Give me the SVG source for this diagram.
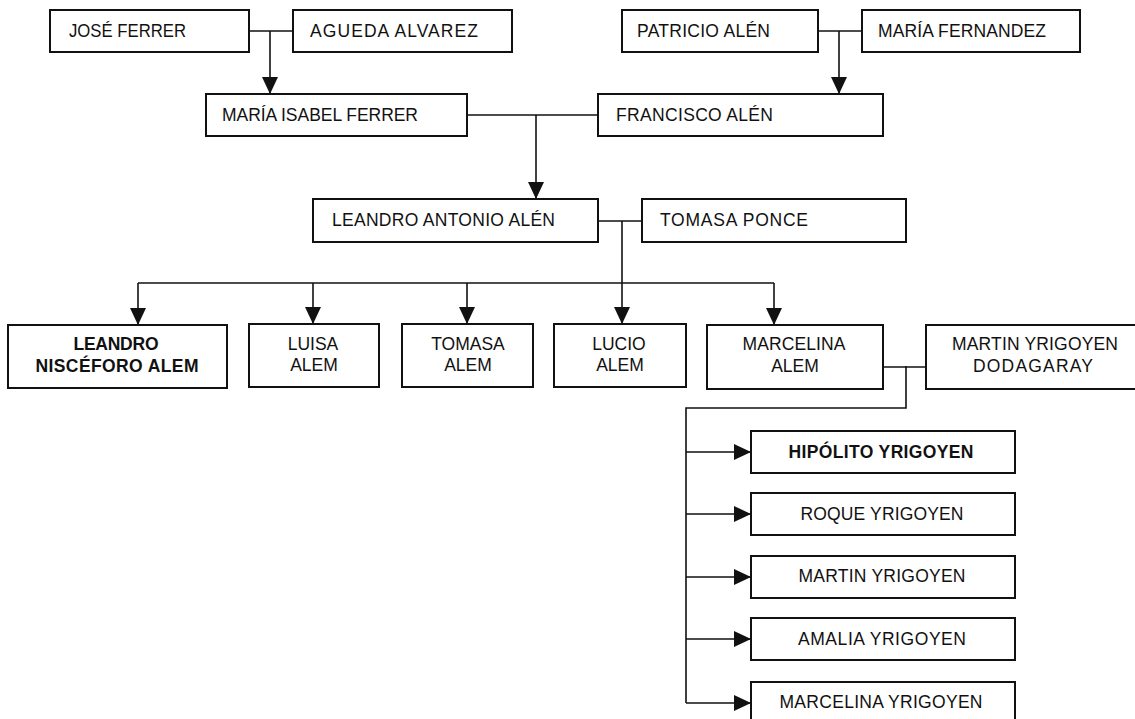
<svg xmlns="http://www.w3.org/2000/svg" width="1135" height="719" viewBox="0 0 1135 719">
<style>
.box{fill:#fff;stroke:#111;stroke-width:2}
.ln{fill:none;stroke:#111;stroke-width:1.6}
text{font-family:"Liberation Sans",Arial,sans-serif;font-size:17.5px;fill:#111}
.c{text-anchor:middle}
.b{font-weight:bold}
</style>
<defs>
<marker id="arr" viewBox="0 0 17 16" refX="17" refY="8" markerWidth="17" markerHeight="16" markerUnits="userSpaceOnUse" orient="auto">
<path d="M0,0 L17,8 L0,16 Z" fill="#111"/>
</marker>
</defs>
<rect width="1135" height="719" fill="#fff"/>
<g id="connectors">
<path class="ln" d="M249,31 H293"/>
<path class="ln" d="M270,31 V94" marker-end="url(#arr)"/>
<path class="ln" d="M818,31 H862"/>
<path class="ln" d="M839,31 V94" marker-end="url(#arr)"/>
<path class="ln" d="M467,115 H598"/>
<path class="ln" d="M536,115 V199" marker-end="url(#arr)"/>
<path class="ln" d="M598,221 H642"/>
<path class="ln" d="M622,221 V324" marker-end="url(#arr)"/>
<path class="ln" d="M138,283 H774"/>
<path class="ln" d="M138,283 V325" marker-end="url(#arr)"/>
<path class="ln" d="M313,283 V324" marker-end="url(#arr)"/>
<path class="ln" d="M467,283 V324" marker-end="url(#arr)"/>
<path class="ln" d="M774,283 V325" marker-end="url(#arr)"/>
<path class="ln" d="M883,367 H926"/>
<path class="ln" d="M906,366 V408 H686 V703"/>
<path class="ln" d="M686,452 H751" marker-end="url(#arr)"/>
<path class="ln" d="M686,514 H751" marker-end="url(#arr)"/>
<path class="ln" d="M686,577 H751" marker-end="url(#arr)"/>
<path class="ln" d="M686,639 H751" marker-end="url(#arr)"/>
<path class="ln" d="M686,703 H751" marker-end="url(#arr)"/>
</g>
<g id="jose-ferrer"><rect class="box" x="50" y="10" width="199" height="42"/><text x="69" y="37" textLength="117" lengthAdjust="spacingAndGlyphs">JOSÉ FERRER</text></g>
<g id="agueda-alvarez"><rect class="box" x="293" y="10" width="219" height="42"/><text x="310" y="37" textLength="168" lengthAdjust="spacing">AGUEDA ALVAREZ</text></g>
<g id="patricio-alen"><rect class="box" x="622" y="10" width="196" height="42"/><text x="637" y="37" textLength="133" lengthAdjust="spacing">PATRICIO ALÉN</text></g>
<g id="maria-fernandez"><rect class="box" x="862" y="10" width="218" height="42"/><text x="878" y="37" textLength="168" lengthAdjust="spacing">MARÍA FERNANDEZ</text></g>
<g id="maria-isabel-ferrer"><rect class="box" x="206" y="94" width="261" height="42"/><text x="222" y="121" textLength="196" lengthAdjust="spacing">MARÍA ISABEL FERRER</text></g>
<g id="francisco-alen"><rect class="box" x="598" y="94" width="285" height="42"/><text x="616" y="121" textLength="157" lengthAdjust="spacing">FRANCISCO ALÉN</text></g>
<g id="leandro-antonio-alen"><rect class="box" x="313" y="199" width="285" height="43"/><text x="332" y="226" textLength="223" lengthAdjust="spacing">LEANDRO ANTONIO ALÉN</text></g>
<g id="tomasa-ponce"><rect class="box" x="642" y="199" width="264" height="43"/><text x="660" y="226" textLength="148" lengthAdjust="spacing">TOMASA PONCE</text></g>
<g id="leandro-nisceforo-alem"><rect class="box" x="8" y="325" width="219" height="63"/><text class="c b" x="116" y="350" textLength="85" lengthAdjust="spacing">LEANDRO</text><text class="c b" x="117" y="372" textLength="163" lengthAdjust="spacing">NISCÉFORO ALEM</text></g>
<g id="luisa-alem"><rect class="box" x="249" y="324" width="130" height="63"/><text class="c" x="313" y="350">LUISA</text><text class="c" x="314" y="371">ALEM</text></g>
<g id="tomasa-alem"><rect class="box" x="402" y="324" width="131" height="63"/><text class="c" x="468" y="350">TOMASA</text><text class="c" x="468" y="371">ALEM</text></g>
<g id="lucio-alem"><rect class="box" x="554" y="324" width="132" height="63"/><text class="c" x="619" y="350">LUCIO</text><text class="c" x="620" y="371">ALEM</text></g>
<g id="marcelina-alem"><rect class="box" x="707" y="325" width="176" height="64"/><text class="c" x="794" y="350" textLength="103" lengthAdjust="spacing">MARCELINA</text><text class="c" x="795" y="372">ALEM</text></g>
<g id="martin-yrigoyen-dodagaray"><rect class="box" x="926" y="325" width="218" height="64"/><text class="c" x="1035" y="350" textLength="166" lengthAdjust="spacing">MARTIN YRIGOYEN</text><text class="c" x="1033" y="372" textLength="120" lengthAdjust="spacing">DODAGARAY</text></g>
<g id="hipolito-yrigoyen"><rect class="box" x="751" y="431" width="264" height="42"/><text class="c b" x="881" y="458" textLength="185" lengthAdjust="spacing">HIPÓLITO YRIGOYEN</text></g>
<g id="roque-yrigoyen"><rect class="box" x="751" y="493" width="264" height="42"/><text class="c" x="882" y="520" textLength="163" lengthAdjust="spacing">ROQUE YRIGOYEN</text></g>
<g id="martin-yrigoyen"><rect class="box" x="751" y="556" width="264" height="42"/><text class="c" x="882" y="582" textLength="167" lengthAdjust="spacing">MARTIN YRIGOYEN</text></g>
<g id="amalia-yrigoyen"><rect class="box" x="751" y="618" width="264" height="42"/><text class="c" x="882" y="645" textLength="168" lengthAdjust="spacing">AMALIA YRIGOYEN</text></g>
<g id="marcelina-yrigoyen"><rect class="box" x="751" y="682" width="264" height="50"/><text class="c" x="881" y="708" textLength="203" lengthAdjust="spacing">MARCELINA YRIGOYEN</text></g>
</svg>
